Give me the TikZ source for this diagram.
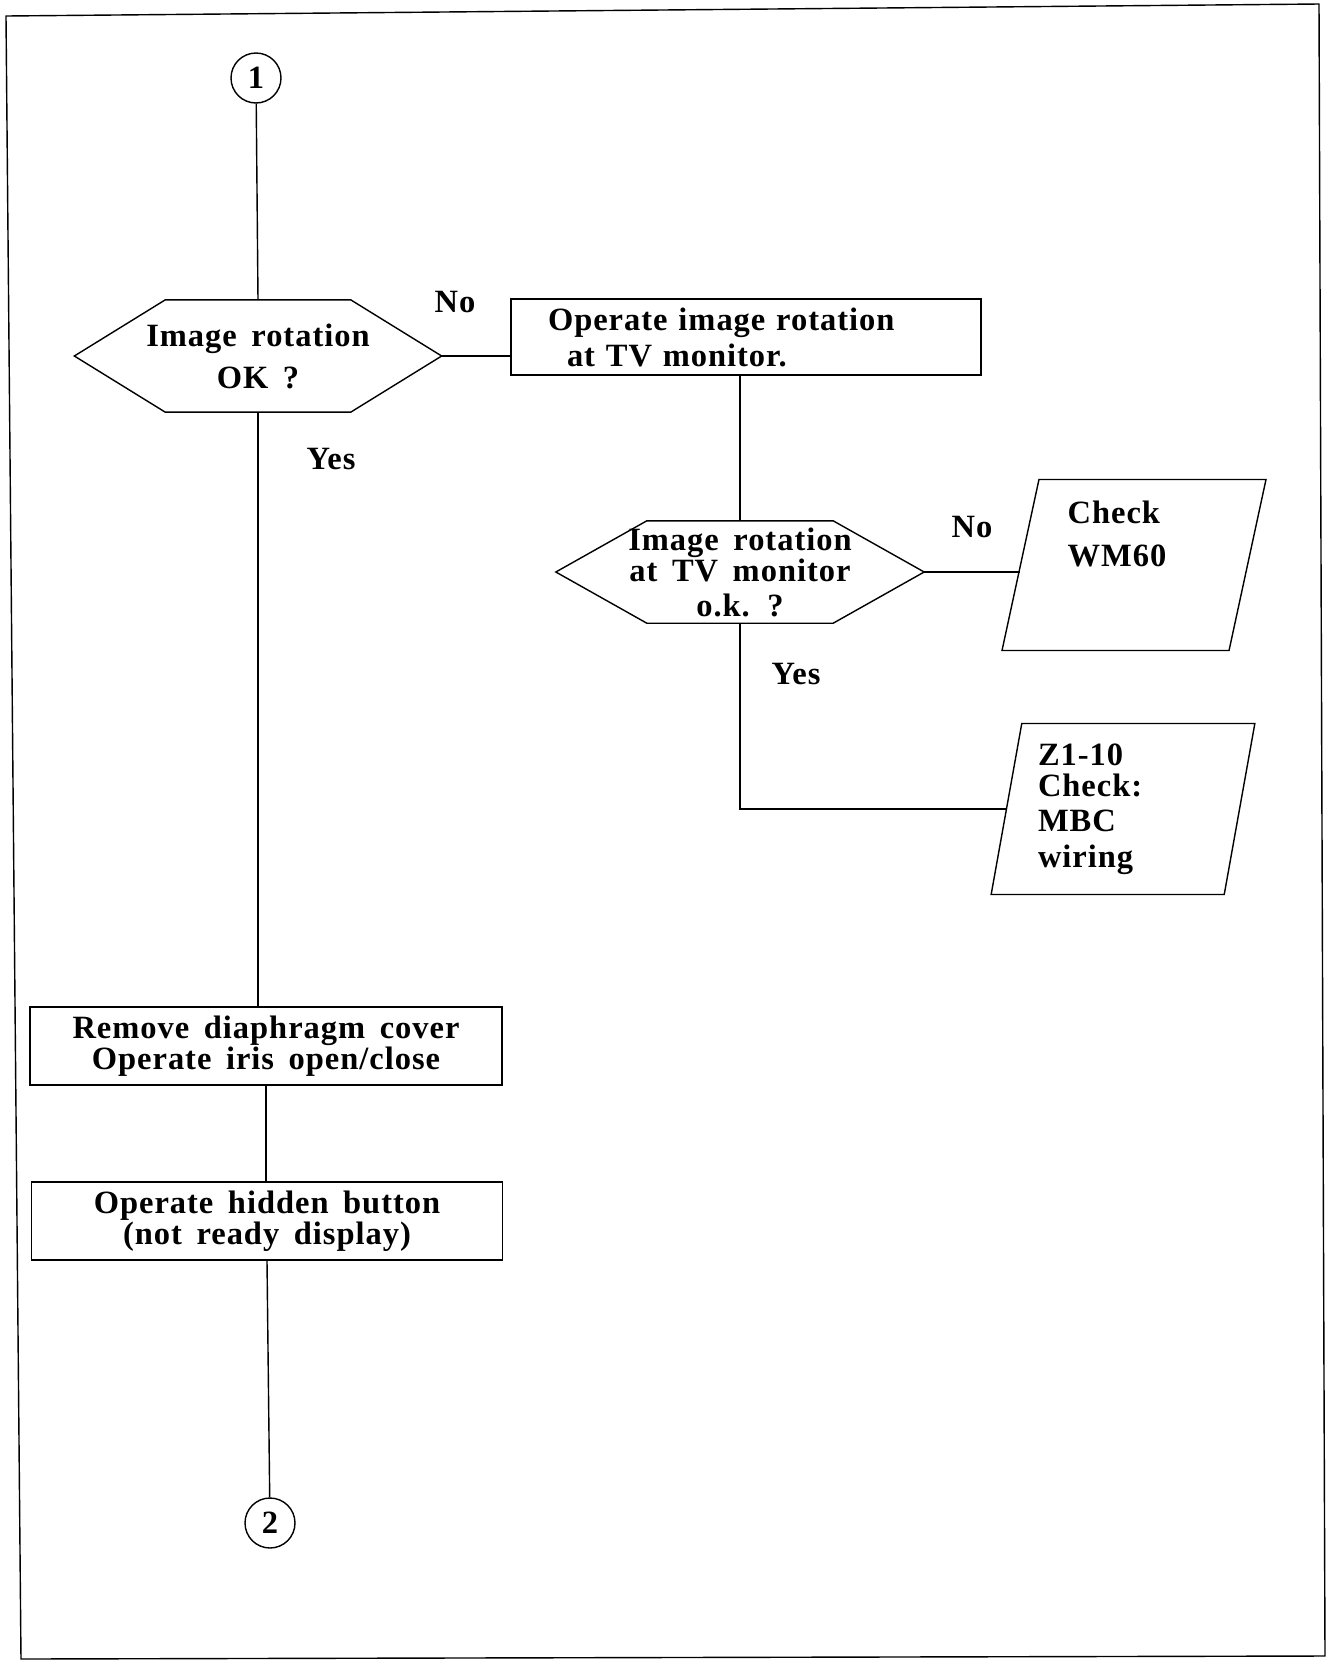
\documentclass[tikz,border=0pt]{standalone}
\usepackage{fontspec}
\setmainfont{Liberation Serif}[LetterSpace=3,WordSpace=1.6]
\usetikzlibrary{positioning,shapes.geometric}

\tikzset{
  flow/.style={font=\bfseries\fontsize{18.5}{17.5}\selectfont},
  decis/.style={flow, rectangle, minimum width=7.32cm, align=center, inner sep=0pt},
  opbox/.style={flow, draw, rectangle, align=center, inner sep=0pt},
  iobox/.style={flow, draw, trapezium, trapezium left angle=79, trapezium right angle=101,
    trapezium stretches=true, minimum width=5.28cm, minimum height=3.42cm, inner sep=2pt},
  conn/.style={flow, draw, circle, minimum size=1cm, inner sep=0pt},
  lbl/.style={flow}
}
\newcommand{\hexframe}[1]{\draw (#1.west) -- ([xshift=1.82cm]#1.north west) -- ([xshift=-1.82cm]#1.north east)
  -- (#1.east) -- ([xshift=-1.82cm]#1.south east) -- ([xshift=1.82cm]#1.south west) -- cycle;}

\begin{document}
\begin{tikzpicture}[x=0.02cm,y=-0.02cm,line width=0.8pt]
\useasboundingbox (0,0) rectangle (1327,1661);
\draw (6,16) -- (1319,4) -- (1325,1656) -- (21,1659) -- cycle;
\node[conn] (c1) at (256,78) {1};
\node[decis, minimum height=2.22cm] (h1) at (258,356) {Image rotation\\[6.4pt]OK ?};
\hexframe{h1}
\node[opbox, minimum width=9.4cm, minimum height=1.52cm, text width=7.92cm, align=left] (r1) at (746,337)
  {Operate image rotation\\[3pt]\hspace*{0.38cm}at TV monitor.};
\node[decis, minimum width=7.34cm, minimum height=2.02cm] (h2) at (740,572)
  {Image rotation\\[0.3pt]at TV monitor\\[2.3pt]o.k. ?};
\hexframe{h2}
\node[iobox] (wm) at (1134,565) {};
\node[lbl, align=left] (wmtxt) at (1117,534) {Check\\[7pt]WM60};
\node[iobox, text width=3.4cm, align=left] (mbc) at (1123,809) {Z1-10\\Check:\\[2.5pt]MBC\\[3pt]wiring};
\node[opbox, minimum width=9.44cm, minimum height=1.56cm] (r2) at (266,1046)
  {Remove diaphragm cover\\Operate iris open/close};
\node[opbox, minimum width=9.42cm, minimum height=1.56cm] (r3) at (267,1221)
  {Operate hidden button\\(not ready display)};
\node[conn] (c2) at (270,1523) {2};
% branch labels
\node[lbl] (no1) at (455,302) {No};
\node[lbl] (yes1) at (331,459) {Yes};
\node[lbl] (no2) at (972,527) {No};
\node[lbl] (yes2) at (796,674) {Yes};
% connectors
\draw (c1) -- (h1.north);
\draw (h1.east) -- (h1.east -| r1.west);
\draw (h2.north |- r1.south) -- (h2.north);
\draw (h2.east) -- (h2.east -| wm.west);
\draw (h2.south) |- (mbc.west);
\draw (h1.south) -- (h1.south |- r2.north);
\draw (r2.south) -- (r2.south |- r3.north);
\draw (r3.south) -- (c2);
\end{tikzpicture}
\end{document}
